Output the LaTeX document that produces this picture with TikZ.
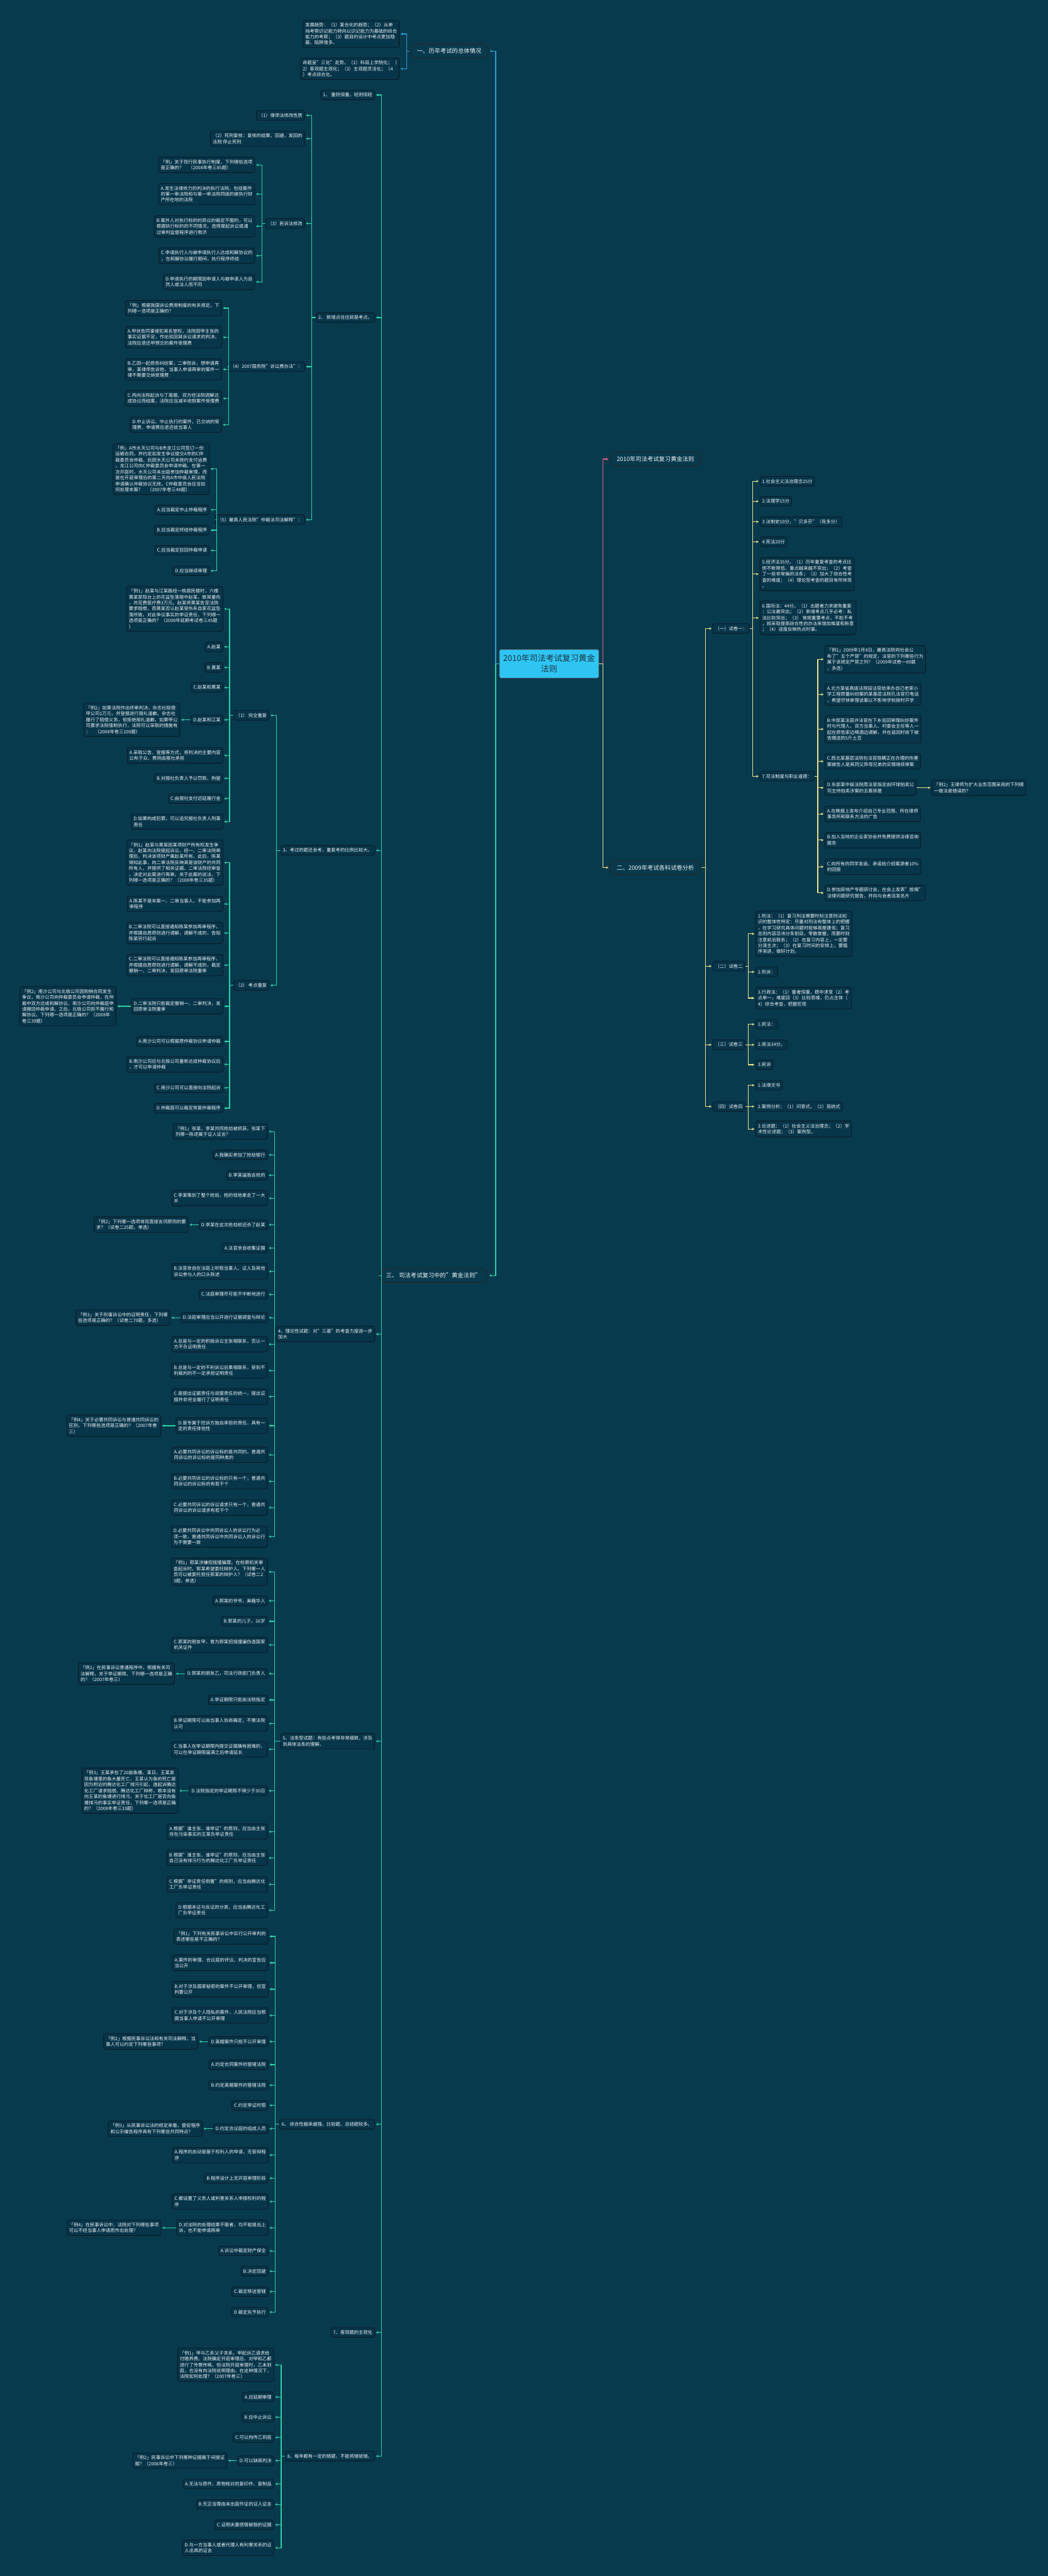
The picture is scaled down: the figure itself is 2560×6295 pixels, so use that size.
\documentclass[tikz,border=0pt]{standalone}
\usepackage{fontspec}
\setmainfont{Noto Sans CJK SC}
\usetikzlibrary{arrows.meta}
\definecolor{bgc}{HTML}{083A4E}
\definecolor{boxf}{HTML}{07354A}
\definecolor{boxd}{HTML}{0B1820}
\definecolor{txt}{HTML}{F2F4F5}
\definecolor{gcol}{HTML}{2CD3A3}
\definecolor{bcol}{HTML}{2E9CD2}
\definecolor{pcol}{HTML}{DD5C8C}
\definecolor{ycol}{HTML}{F0E088}
\definecolor{rootf}{HTML}{2EC5F3}
\definecolor{roott}{HTML}{1C3442}
\begin{document}
\begin{tikzpicture}[x=1pt,y=-1pt,
 leaf/.style={draw=boxd, fill=boxf, line width=1.3pt, rounded corners=5pt, text=txt, align=left, font=\fontsize{11.2}{14.5}\selectfont, inner xsep=5.5pt, inner ysep=6.5pt},
 L/.style={leaf, anchor=east},
 R/.style={leaf, anchor=west},
 pill/.style={draw=black!85, fill=bgc, line width=1.8pt, rounded corners=17pt, text=txt, font=\fontsize{14.3}{18}\selectfont, minimum height=34pt, inner xsep=17pt},
 rootbox/.style={draw=black!70, fill=rootf, line width=1.3pt, rounded corners=3pt, text=roott, align=center, font=\fontsize{20}{26}\selectfont, minimum width=243pt, minimum height=70pt},
 conn/.style={line width=1.8pt, -{Stealth[length=6pt,width=6pt]}, shorten >=2.5pt},
 gc/.style={conn, draw=gcol},
 bc/.style={conn, draw=bcol},
 pc/.style={conn, draw=pcol},
 yc/.style={conn, draw=ycol}]
\fill[bgc] (0,0) rectangle (2560,6295);
\useasboundingbox (0,0) rectangle (2560,6295);

% coordinates of vertical connector lines
\coordinate (XM) at (1211,0);
\coordinate (X1) at (993,0);
\coordinate (X3) at (932,0);
\coordinate (X2) at (762,0);
\coordinate (X2c) at (640,0);
\coordinate (X2d) at (558.5,0);
\coordinate (X2e) at (529,0);
\coordinate (X3r) at (675,0);
\coordinate (X3a) at (561,0);
\coordinate (X4) at (671,0);
\coordinate (X5) at (671,0);
\coordinate (X6) at (672,0);
\coordinate (X8) at (687,0);
\coordinate (R0) at (1472.5,0);
\coordinate (R1) at (1724,0);
\coordinate (R2) at (1839,0);
\coordinate (R3) at (1998,0);
\coordinate (R4) at (1828.5,0);

% root and main branches
\node[rootbox] (root) at (1341.5,1622) {2010年司法考试复习黄金\\法则};
\node[pill, anchor=east] (s1) at (1194,125) {一、历年考试的总体情况};
\node[pill, anchor=east] (s3) at (1193,3117) {三、 司法考试复习中的"黄金法则"};
\node[pill, anchor=west] (p2010) at (1489,1122) {2010年司法考试复习黄金法则};
\node[pill, anchor=west] (s2) at (1489,2120) {二、2009年考试各科试卷分析};

% section one
\node[L] (s1a) at (976,83) {发展趋势：（1）复合化的趋势；（2）从单\\纯考察识记能力转向以识记能力为基础的综合\\能力的考察；（3）题目的设计中考点更加隐\\蔽、陷阱增多。};
\node[L] (s1b) at (976,168) {命题呈"三化"走势。（1）科目上学院化；（\\2）客观题主观化；（3）主观题灵活化；（4\\）考点综合化。};

% section three items
\node[L] (t1) at (916,232) {1、 重则恒重，轻则恒轻};
\node[L] (t2) at (916,776) {2、 新增点往往就是考点。};
\node[L] (t3) at (916,2078) {3、考过的题还会考，重复考的比例比较大。};
\node[L] (t4) at (916,3260) {4、理论性试题：对"三基"的考查力度进一步\\加大};
\node[L] (t5) at (916,4255) {5、法条型试题：有些点考得非常细致，涉及\\到具体法条的理解。};
\node[L] (t6) at (916,5191) {6、 综合性越来越强，比较题、总结题较多。};
\node[L] (t7) at (916,5700) {7、客观题的主观化};
\node[L] (t8) at (916,6002) {8、每年都有一定的错题，不能将错就错。};

% item 2
\node[L] (t2a) at (745,282) {（1）律师法修改性质};
\node[L] (t2b) at (745,339) {（2）死刑复核：复核的结果，回避，发回的\\法院 停止死刑};
\node[L] (t2c) at (745,546) {（3）民诉法修改};
\node[L] (t2d) at (745,896) {（4）2007国务院"诉讼费办法"：};
\node[L] (t2e) at (745,1270) {（5）最高人民法院"仲裁法司法解释"：};

\node[L] (c1) at (623,403) {「例」关于现行民事执行制度，下列哪些选项\\是正确的？　（2008年卷三85题）};
\node[L] (c2) at (623,474.5) {A.发生法律效力的判决的执行法院，包括案件\\的第一审法院和与第一审法院同级的被执行财\\产所在地的法院};
\node[L] (c3) at (623,553) {B.案外人对执行标的的异议的裁定不服的，可以\\根据执行标的的不同情况，选择提起诉讼或通\\过审判监督程序进行救济};
\node[L] (c4) at (623,625) {C.申请执行人与被申请执行人达成和解协议的\\，在和解协议履行期间，执行程序终结};
\node[L] (c5) at (623,689) {D.申请执行的期限因申请人与被申请人为自\\然人或法人而不同};

\node[L] (d1) at (542,753) {「例」根据我国诉讼费用制度的有关规定，下\\列哪一选项是正确的？};
\node[L] (d2) at (542,824) {A.甲状告同事侵犯其名誉权，法院因甲主张的\\事实证据不足，作出驳回其诉讼请求的判决。\\法院应退还甲预交的案件受理费};
\node[L] (d3) at (542,902.5) {B.乙因一起债务纠纷案，二审败诉，想申请再\\审，某律师告诉他，当事人申请再审的案件一\\律不需要交纳受理费};
\node[L] (d4) at (542,973.6) {C.丙向法院起诉与丁离婚。双方经法院调解达\\成协议而结案，法院应当减半收取案件受理费};
\node[L] (d5) at (542,1038) {D.中止诉讼、中止执行的案件，已交纳的受\\理费、申请费应退还给当事人};

\node[L] (e1) at (512,1146) {「例」A市水天公司与B市龙江公司签订一份\\运输合同，并约定如发生争议提交A市的C仲\\裁委员会仲裁。后因水天公司未按约支付运费\\，龙江公司向C仲裁委员会申请仲裁。在第一\\次开庭时，水天公司未出庭参加仲裁审理，而\\是在开庭审理后的第二天向A市中级人民法院\\申请确认仲裁协议无效。C仲裁委员会应当如\\何处理本案？　（2007年卷三48题）};
\node[L] (e2) at (512,1246) {A.应当裁定中止仲裁程序};
\node[L] (e3) at (512,1295.6) {B.应当裁定终结仲裁程序};
\node[L] (e4) at (512,1345) {C.应当裁定驳回仲裁申请};
\node[L] (e5) at (512,1395) {D.应当继续审理};

% item 3
\node[L] (t3a) at (658,1748) {（1） 完全重复};
\node[L] (t3b) at (658,2408) {（2） 考点重复};

\node[L] (f1) at (545,1488) {「例1」赵某与江某路经一栋居民楼时，六楼\\黄某家阳台上的花盆坠落砸中赵某，致其重伤\\，共花费医疗费3万元。赵某将黄某告至法院\\要求赔偿，而黄某否认赵某受伤系自家花盆坠\\落所致。对此争议事实的举证责任，下列哪一\\选项是正确的？（2008年延期考试卷三45题\\）};
\node[L] (f2) at (545,1581) {A.赵某};
\node[L] (f3) at (545,1631) {B.黄某};
\node[L] (f4) at (545,1680) {C.赵某和黄某};
\node[L] (f5) at (545,1759) {D.赵某和江某};
\node[L] (f5x) at (440,1759) {「例2」如果法院作出终审判决，杂志社赔偿\\甲公司1万元，并登报进行赔礼道歉。杂志社\\履行了赔偿义务，但拒绝赔礼道歉。如果甲公\\司要求法院强制执行，法院可以采取的措施有\\：　（2008年卷三100题）};
\node[L] (f6) at (545,1846) {A.采取公告、登报等方式，将判决的主要内容\\公布于众，费用由报社承担};
\node[L] (f7) at (545,1902) {B.对报社负责人予以罚款、拘留};
\node[L] (f8) at (545,1951.5) {C.由报社支付迟延履行金};
\node[L] (f9) at (545,2008) {D.如果构成犯罪，可以追究报社负责人刑事\\责任};

\node[L] (g1) at (545,2108) {「例1」赵某与黄某因某项财产所有权发生争\\议，赵某向法院提起诉讼，经一、二审法院审\\理后，判决该项财产属赵某所有。此后，陈某\\得知此事，向二审法院反映其是该财产的共同\\所有人，并提供了相关证据。二审法院经审查\\，决定对此案进行再审。关于此案的说法，下\\列哪一选项是正确的？（2008年卷三35题）};
\node[L] (g2) at (545,2209) {A.陈某不是本案一、二审当事人，不能参加再\\审程序};
\node[L] (g3) at (545,2280) {B.二审法院可以直接通知陈某参加再审程序，\\并根据自愿原则进行调解，调解不成的，告知\\陈某另行起诉};
\node[L] (g4) at (545,2358.5) {C.二审法院可以直接通知陈某参加再审程序，\\并根据自愿原则进行调解，调解不成的，裁定\\撤销一、二审判决，发回原审法院重审};
\node[L] (g5) at (545,2459) {D.二审法院只能裁定撤销一、二审判决，发\\回原审法院重审};
\node[L] (g5x) at (284,2459) {「例2」南沙公司与北极公司因购销合同发生\\争议，南沙公司向仲裁委员会申请仲裁，在仲\\裁中双方达成和解协议，南沙公司向仲裁庭申\\请撤回仲裁申请。之后，北极公司拒不履行和\\解协议。下列哪一选项是正确的？（2008年\\卷三39题）};
\node[L] (g6) at (545,2545) {A.南沙公司可以根据原仲裁协议申请仲裁};
\node[L] (g7) at (545,2601) {B.南沙公司应与北极公司重新达成仲裁协议后\\，才可以申请仲裁};
\node[L] (g8) at (545,2658.5) {C.南沙公司可以直接向法院起诉};
\node[L] (g9) at (545,2708) {D.仲裁庭可以裁定恢复仲裁程序};

% item 4
\node[L] (h1) at (654,2765) {「例1」张某、李某共同抢劫被抓获。张某下\\列哪一陈述属于证人证言？};
\node[L] (h2) at (654,2822) {A.我确实参加了抢劫银行};
\node[L] (h3) at (654,2872) {B.李某逼我去抢的};
\node[L] (h4) at (654,2928) {C.李某策划了整个抢劫，抢的钱他拿走了一大\\半};
\node[L] (h5) at (654,2992.7) {D.李某在这次抢劫前还杀了赵某};
\node[L] (h5x) at (460.5,2992.7) {「例2」下列哪一选项体现直接言词原则的要\\求？（试卷二25题，单选）};
\node[L] (h6) at (654,3049.7) {A.法官亲自收集证据};
\node[L] (h7) at (654,3107) {B.法官亲自在法庭上听取当事人、证人及其他\\诉讼参与人的口头陈述};
\node[L] (h8) at (654,3163) {C.法庭审理尽可能不中断地进行};
\node[L] (h9) at (654,3220) {D.法庭审理应当公开进行证据调查与辩论};
\node[L] (h9x) at (416,3220) {「例3」关于刑事诉讼中的证明责任，下列哪\\些选项是正确的？（试卷二70题，多选）};
\node[L] (h10) at (654,3285) {A.总是与一定的积极诉讼主张相联系，否认一\\方不负证明责任};
\node[L] (h11) at (654,3349) {B.总是与一定的不利诉讼后果相联系，受到不\\利裁判的不一定承担证明责任};
\node[L] (h12) at (654,3413) {C.是提出证据责任与说服责任的统一，提出证\\据并非完全履行了证明责任};
\node[L] (h13) at (654,3484) {D.是专属于控诉方独自承担的责任，具有一\\定的责任排他性};
\node[L] (h13x) at (393.5,3484) {「例4」关于必要共同诉讼与普通共同诉讼的\\区别，下列哪些选项是正确的？（2007年卷\\三）};
\node[L] (h14) at (654,3555) {A.必要共同诉讼的诉讼标的是共同的，普通共\\同诉讼的诉讼标的是同种类的};
\node[L] (h15) at (654,3620) {B.必要共同诉讼的诉讼标的只有一个，普通共\\同诉讼的诉讼标的有若干个};
\node[L] (h16) at (654,3684) {C.必要共同诉讼的诉讼请求只有一个，普通共\\同诉讼的诉讼请求有若干个};
\node[L] (h17) at (654,3755) {D.必要共同诉讼中共同诉讼人的诉讼行为必\\须一致，普通共同诉讼中共同诉讼人的诉讼行\\为不需要一致};

% item 5
\node[L] (i1) at (654,3841) {「例1」郭某涉嫌招摇撞骗罪。在检察机关审\\查起诉时，郭某希望委托辩护人。下列哪一人\\员可以被委托担任郭某的辩护人？（试卷二2\\3题，单选）};
\node[L] (i2) at (654,3912) {A.郭某的爷爷，美籍华人};
\node[L] (i3) at (654,3962) {B.郭某的儿子，16岁};
\node[L] (i4) at (654,4019.5) {C.郭某的朋友甲，曾为郭某招摇撞骗伪造国家\\机关证件};
\node[L] (i5) at (654,4090) {D.郭某的朋友乙，司法行政部门负责人};
\node[L] (i5x) at (427,4090) {「例2」在民事诉讼普通程序中，根据有关司\\法解释，关于举证期限，下列哪一选项是正确\\的？（2007年卷三）};
\node[L] (i6) at (654,4154) {A.举证期限只能由法院指定};
\node[L] (i7) at (654,4212) {B.举证期限可以由当事人协商确定，不需法院\\认可};
\node[L] (i8) at (654,4275) {C.当事人在举证期限内提交证据确有困难的，\\可以在举证期限届满之后申请延长};
\node[L] (i9) at (654,4376) {D.法院指定的举证期限不得少于30日};
\node[L] (i9x) at (436,4376) {「例3」王某承包了20亩鱼塘。某日，王某发\\现鱼塘里的鱼大量死亡，王某认为鱼的死亡是\\因为附近的腾达化工厂排污引起，遂起诉腾达\\化工厂请求赔偿。腾达化工厂辩称，根本没有\\向王某的鱼塘进行排污。关于化工厂是否向鱼\\塘排污的事实举证责任，下列哪一选项是正确\\的？（2008年卷三33题）};
\node[L] (i10) at (654,4476) {A.根据"谁主张、谁举证"的原则，应当由主张\\存在污染事实的王某负举证责任};
\node[L] (i11) at (654,4540) {B.根据"谁主张、谁举证"的原则，应当由主张\\自己没有排污行为的腾达化工厂负举证责任};
\node[L] (i12) at (654,4605) {C.根据"举证责任倒置"的规则，应当由腾达化\\工厂负举证责任};
\node[L] (i13) at (654,4668) {D.根据本证与反证的分类，应当由腾达化工\\厂负举证责任};

% item 6
\node[L] (j1) at (655.6,4732) {「例1」下列有关民事诉讼中实行公开审判的\\表述哪些是不正确的？};
\node[L] (j2) at (655.6,4796.5) {A.案件的审理、合议庭的评议、判决的宣告应\\当公开};
\node[L] (j3) at (655.6,4861) {B.对于涉及国家秘密的案件不公开审理，但宣\\判要公开};
\node[L] (j4) at (655.6,4925) {C.对于涉及个人隐私的案件，人民法院应当根\\据当事人申请不公开审理};
\node[L] (j5) at (655.6,4989) {D.离婚案件只能不公开审理};
\node[L] (j5x) at (484,4989) {「例2」根据民事诉讼法和有关司法解释，当\\事人可以约定下列哪些事项？};
\node[L] (j6) at (655.6,5045.5) {A.约定合同案件的管辖法院};
\node[L] (j7) at (655.6,5095.5) {B.约定离婚案件的管辖法院};
\node[L] (j8) at (655.6,5145) {C.约定举证时限};
\node[L] (j9) at (655.6,5202) {D.约定合议庭的组成人员};
\node[L] (j9x) at (495,5202) {「例3」从民事诉讼法的规定来看，督促程序\\和公示催告程序具有下列哪些共同特点？};
\node[L] (j10) at (655.6,5266.6) {A.程序的启动是基于权利人的申请，无答辩程\\序};
\node[L] (j11) at (655.6,5323) {B.程序设计上无开庭审理阶段};
\node[L] (j12) at (655.6,5380) {C.都设置了义务人或利害关系人申报权利的程\\序};
\node[L] (j13) at (655.6,5444) {D.对法院的处理结果不服者，均不能提出上\\诉，也不能申请再审};
\node[L] (j13x) at (394,5444) {「例4」在民事诉讼中，法院对下列哪些事项\\可以不经当事人申请而作出处理？};
\node[L] (j14) at (655.6,5500.6) {A.诉讼中裁定财产保全};
\node[L] (j15) at (655.6,5550) {B.决定回避};
\node[L] (j16) at (655.6,5600) {C.裁定移送管辖};
\node[L] (j17) at (655.6,5650) {D.裁定先予执行};

% item 8
\node[L] (k1) at (669.6,5779) {「例1」甲与乙系父子关系，甲起诉乙请求给\\付赡养费。法院确定开庭审理后，对甲和乙都\\进行了传票传唤。但法院开庭审理时，乙未到\\庭，也没有向法院说明理由。在这种情况下，\\法院如何处理？（2007年卷三）};
\node[L] (k2) at (669.6,5857.5) {A.应延期审理};
\node[L] (k3) at (669.6,5907) {B.应中止诉讼};
\node[L] (k4) at (669.6,5956.6) {C.可以拘传乙到庭};
\node[L] (k5) at (669.6,6013) {D.可以缺席判决};
\node[L] (k5x) at (555,6013) {「例2」民事诉讼中下列哪种证据属于间接证\\据？（2006年卷三）};
\node[L] (k6) at (669.6,6070) {A.无法与原件、原物核对的复印件、复制品};
\node[L] (k7) at (669.6,6120) {B.无正当理由未出庭作证的证人证言};
\node[L] (k8) at (669.6,6170) {C.证明夫妻感情破裂的证据};
\node[L] (k9) at (669.6,6226) {D.与一方当事人或者代理人有利害关系的证\\人出具的证言};

% right side: section two
\node[R] (r1) at (1741,1536) {（一）试卷一：};
\node[R] (r2) at (1741,2361) {（二）试卷二};
\node[R] (r3) at (1741,2553) {（三）试卷三};
\node[R] (r4) at (1741,2704) {（四）试卷四};

\node[R] (r1a) at (1856,1176) {1.社会主义法治理念25分};
\node[R] (r1b) at (1856,1225) {2.法理学15分};
\node[R] (r1c) at (1856,1275) {3.法制史10分，"贝多芬"（背多分）};
\node[R] (r1d) at (1856,1324) {4.宪法20分};
\node[R] (r1e) at (1856,1403) {5.经济法35分。（1）历年重复考查的考点比\\例不断降低，重点越来越不突出；（2）考查\\了一些非常偏的法条；（3）加大了综合性考\\查的难度；（4）理论型考查的题目有所体现\\。};
\node[R] (r1f) at (1856,1510) {6.国际法：44分。（1）出题者力求避免重复\\：公法最突出；（2）新增考点几乎必考：私\\法比较突出；（3） 常规重要考点，不能不考\\，就采取提高综合性的办法来增加难度和新意\\；（4）适度反映热点时事。};
\node[R] (r1g) at (1856,1897) {7.司法制度与职业道德：};

\node[R] (m1) at (2014.5,1611) {「例1」2009年1月8日，最高法院向社会公\\布了"五个严禁"的规定，法官的下列哪些行为\\属于该规定严禁之列？（2009年试卷一89题\\，多选）};
\node[R] (m2) at (2014.5,1697) {A.北方某省高级法院田法官给承办自己老家小\\学工程质量纠纷案的某基层法院孔法官打电话\\，希望尽快审理该案以不影响学校按时开学};
\node[R] (m3) at (2014.5,1782) {B.中部某法庭许法官在下乡巡回审理纠纷案件\\时与代理人、双方当事人、村委会主任等人一\\起在原告家边喝酒边调解，并在返回时收下被\\告赠送的5斤土豆};
\node[R] (m4) at (2014.5,1860.6) {C.西北某基层法院包法官隐瞒正在办理的伤害\\案被告人是其同父异母兄弟的实情继续审案};
\node[R] (m5) at (2014.5,1925) {D.东部某中级法院周法官指定由环球拍卖公\\司主持拍卖涉案的五套房屋};
\node[R] (m5x) at (2276,1925) {「例2」王律师为扩大业务范围采用的下列哪\\一做法是错误的？};
\node[R] (m6) at (2014.5,1989) {A.在晚报上发布介绍自己专业范围、所在律师\\事务所和联系方法的广告};
\node[R] (m7) at (2014.5,2053) {B.加入当地的企业家协会并免费提供法律咨询\\服务};
\node[R] (m8) at (2014.5,2118) {C.向所有的同学发函，承诺给介绍案源者10\%\\的回报};
\node[R] (m9) at (2014.5,2182) {D.参加房地产专题研讨会，在会上发表"按揭"\\法律问题研究报告，并向与会者派发名片};

\node[R] (r2a) at (1845.6,2282) {1.刑法：（1）复习刑法需要时刻注意刑法知\\识的整体性特定：尽量对刑法有整体上的把握\\，在学习研究具体问题时能够高屋建瓴；复习\\总则内容忌讳分条割目，零散掌握，而要时刻\\注意前后联系；（2）在复习内容上，一定要\\分清主次；（3）在复习时间的安排上，要循\\序渐进，做好计划。};
\node[R] (r2b) at (1845.6,2375) {2.刑诉：};
\node[R] (r2c) at (1845.6,2439) {3.行政法：（1）重者恒重，稳中求变（2）考\\点单一，难度回（3）比较思维，仍占主体（\\4）综合考查，把握宏观};
\node[R] (r3a) at (1845.6,2503) {1.民法：};
\node[R] (r3b) at (1845.6,2553) {2.商法34分。};
\node[R] (r3c) at (1845.6,2602) {3.民诉};
\node[R] (r4a) at (1845.6,2652) {1.法律文书};
\node[R] (r4b) at (1845.6,2704) {2.案例分析：（1）问答式，（2）笼统式};
\node[R] (r4c) at (1845.6,2759) {3.论述题：（1）社会主义法治理念；（2）学\\术性论述题；（3）案例型。};

% ---------- connectors ----------
\draw[bc] (root.west) -- (root.west -| XM) |- (s1.east);
\draw[gc] (root.west) -- (root.west -| XM) |- (s3.east);
\draw[pc] (root.east) -- (root.east -| R0) |- (p2010.west);
\draw[yc] (root.east) -- (root.east -| R0) |- (s2.west);

\foreach \c in {s1a,s1b} \draw[bc] (s1.west) -- (s1.west -| X1) |- (\c.east);
\foreach \c in {t1,t2,t3,t4,t5,t6,t7,t8} \draw[gc] (s3.west) -- (s3.west -| X3) |- (\c.east);
\foreach \c in {t2a,t2b,t2c,t2d,t2e} \draw[gc] (t2.west) -- (t2.west -| X2) |- (\c.east);
\foreach \c in {c1,c2,c3,c4,c5} \draw[gc] (t2c.west) -- (t2c.west -| X2c) |- (\c.east);
\foreach \c in {d1,d2,d3,d4,d5} \draw[gc] (t2d.west) -- (t2d.west -| X2d) |- (\c.east);
\foreach \c in {e1,e2,e3,e4,e5} \draw[gc] (t2e.west) -- (t2e.west -| X2e) |- (\c.east);
\foreach \c in {t3a,t3b} \draw[gc] (t3.west) -- (t3.west -| X3r) |- (\c.east);
\foreach \c in {f1,f2,f3,f4,f5,f6,f7,f8,f9} \draw[gc] (t3a.west) -- (t3a.west -| X3a) |- (\c.east);
\foreach \c in {g1,g2,g3,g4,g5,g6,g7,g8,g9} \draw[gc] (t3b.west) -- (t3b.west -| X3a) |- (\c.east);
\foreach \c in {h1,h2,h3,h4,h5,h6,h7,h8,h9,h10,h11,h12,h13,h14,h15,h16,h17} \draw[gc] (t4.west) -- (t4.west -| X4) |- (\c.east);
\foreach \c in {i1,i2,i3,i4,i5,i6,i7,i8,i9,i10,i11,i12,i13} \draw[gc] (t5.west) -- (t5.west -| X5) |- (\c.east);
\foreach \c in {j1,j2,j3,j4,j5,j6,j7,j8,j9,j10,j11,j12,j13,j14,j15,j16,j17} \draw[gc] (t6.west) -- (t6.west -| X6) |- (\c.east);
\foreach \c in {k1,k2,k3,k4,k5,k6,k7,k8,k9} \draw[gc] (t8.west) -- (t8.west -| X8) |- (\c.east);
\foreach \a/\b in {f5/f5x,g5/g5x,h5/h5x,h9/h9x,h13/h13x,i5/i5x,i9/i9x,j5/j5x,j9/j9x,j13/j13x,k5/k5x} \draw[gc] (\a.west) -- (\b.east);

\foreach \c in {r1,r2,r3,r4} \draw[yc] (s2.east) -- (s2.east -| R1) |- (\c.west);
\foreach \c in {r1a,r1b,r1c,r1d,r1e,r1f,r1g} \draw[yc] (r1.east) -- (r1.east -| R2) |- (\c.west);
\foreach \c in {m1,m2,m3,m4,m5,m6,m7,m8,m9} \draw[yc] (r1g.east) -- (r1g.east -| R3) |- (\c.west);
\draw[yc] (m5.east) -- (m5x.west);
\foreach \c in {r2a,r2b,r2c} \draw[yc] (r2.east) -- (r2.east -| R4) |- (\c.west);
\foreach \c in {r3a,r3b,r3c} \draw[yc] (r3.east) -- (r3.east -| R4) |- (\c.west);
\foreach \c in {r4a,r4b,r4c} \draw[yc] (r4.east) -- (r4.east -| R4) |- (\c.west);
\end{tikzpicture}
\end{document}
